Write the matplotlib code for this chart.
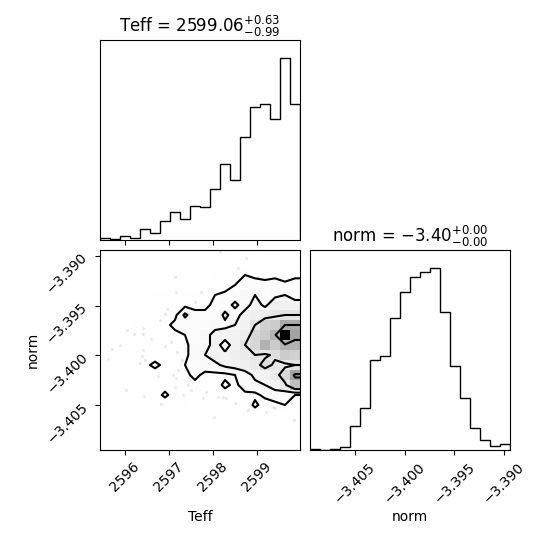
import numpy as np
import matplotlib
matplotlib.use("Agg")
import matplotlib.pyplot as plt
from matplotlib.colors import LinearSegmentedColormap

# ranges of the two parameters (also the histogram ranges)
TEFF_RANGE = (2595.43, 2599.99)
NORM_RANGE = (-3.4095, -3.3894)
N_BINS = 20

# 1D histogram counts (20 bins each)
teff_counts = [2, 1, 4, 2, 11, 7, 19, 28, 21, 34, 33, 51, 76, 60, 103, 132, 135, 120, 181, 135]
norm_counts = [1, 0, 1, 3, 24, 42, 90, 94, 132, 158, 173, 178, 182, 138, 84, 52, 22, 10, 4, 6]

# 2D counts, rows from top (high norm) to bottom, columns low -> high Teff
H_rows = [
    [0, 0, 0, 0, 0, 0, 0, 0, 0, 0, 0, 0, 1, 0, 1, 0, 0, 1, 0, 0],
    [0, 0, 0, 0, 0, 0, 0, 0, 0, 0, 0, 0, 0, 1, 0, 1, 1, 0, 1, 1],
    [0, 0, 0, 0, 0, 0, 0, 0, 0, 0, 0, 1, 1, 2, 3, 2, 2, 2, 1, 2],
    [0, 0, 0, 0, 0, 0, 0, 0, 0, 0, 1, 1, 1, 3, 4, 5, 4, 5, 4, 5],
    [0, 0, 0, 0, 0, 1, 1, 1, 1, 1, 2, 3, 4, 5, 6, 7, 5, 6, 7, 5],
    [0, 0, 0, 0, 0, 1, 1, 1, 2, 2, 2, 4, 5, 8, 5, 9, 6, 10, 9, 9],
    [0, 0, 0, 0, 1, 1, 2, 2, 8, 4, 4, 4, 8, 5, 9, 10, 11, 12, 13, 13],
    [0, 0, 0, 1, 1, 2, 2, 4, 4, 4, 4, 6, 6, 7, 9, 13, 17, 18, 23, 23],
    [0, 0, 0, 1, 1, 2, 2, 2, 3, 4, 6, 8, 9, 9, 10, 16, 18, 22, 40, 24],
    [0, 0, 1, 1, 2, 2, 2, 2, 2, 5, 5, 9, 5, 9, 13, 16, 22, 18, 22, 22],
    [0, 1, 1, 1, 2, 1, 2, 2, 2, 5, 7, 9, 8, 10, 11, 13, 12, 14, 18, 17],
    [0, 0, 1, 1, 2, 4, 2, 2, 3, 4, 5, 6, 8, 9, 10, 11, 15, 12, 12, 13],
    [0, 0, 1, 1, 1, 1, 1, 2, 2, 4, 2, 2, 2, 3, 5, 8, 9, 11, 16, 24],
    [0, 0, 1, 1, 1, 1, 1, 1, 1, 2, 2, 1, 4, 2, 5, 6, 7, 9, 12, 20],
    [0, 1, 1, 1, 1, 1, 4, 1, 1, 1, 1, 1, 1, 2, 2, 2, 4, 5, 4, 3],
    [1, 0, 0, 0, 0, 1, 0, 0, 1, 0, 1, 0, 0, 1, 0, 4, 1, 2, 3, 1],
    [0, 0, 0, 0, 0, 0, 0, 0, 0, 0, 0, 0, 1, 0, 1, 0, 0, 0, 1, 1],
    [0, 0, 0, 0, 0, 0, 0, 0, 0, 0, 0, 0, 0, 0, 0, 0, 1, 0, 0, 0],
    [0, 0, 0, 0, 0, 0, 0, 0, 0, 0, 0, 0, 0, 0, 0, 0, 0, 0, 0, 0],
    [0, 0, 0, 0, 0, 0, 0, 0, 0, 0, 0, 0, 0, 0, 0, 0, 0, 0, 0, 0],
]

# loose samples visible outside the outer contour
pts_teff = [2597.13, 2597.17, 2597.59, 2596.95, 2596.91, 2596.79, 2596.04, 2596.40, 2596.21,
            2596.40, 2596.60, 2595.88, 2595.70, 2596.91, 2597.06, 2596.41, 2597.19, 2595.62,
            2596.38, 2596.45, 2596.34, 2596.57, 2597.29, 2597.21, 2596.75, 2597.10, 2597.17,
            2597.48, 2597.13, 2597.44, 2596.02, 2596.44, 2596.81, 2597.51, 2597.32, 2598.16,
            2598.76, 2598.57, 2599.03, 2597.74, 2598.04, 2599.86, 2598.80, 2599.41, 2599.79,
            2597.85, 2598.23, 2598.50, 2597.78, 2598.12, 2598.31, 2599.22, 2599.37, 2598.91]
pts_norm = [-3.3921, -3.3936, -3.3946, -3.3953, -3.3958, -3.3964, -3.3974, -3.3972, -3.3978,
            -3.3978, -3.3983, -3.3989, -3.3993, -3.3990, -3.3986, -3.3994, -3.3997, -3.4004,
            -3.4001, -3.4005, -3.4008, -3.4010, -3.4005, -3.4015, -3.4021, -3.4020, -3.4023,
            -3.4021, -3.4032, -3.4030, -3.4035, -3.4041, -3.4049, -3.4035, -3.4040, -3.3896,
            -3.3902, -3.3912, -3.3921, -3.3936, -3.4062, -3.4065, -3.4055, -3.4053, -3.4047,
            -3.4037, -3.4042, -3.4048, -3.4043, -3.4042, -3.4043, -3.4057, -3.4052, -3.4050]

teff_ticks = [2596, 2597, 2598, 2599]
norm_ticks = [-3.405, -3.400, -3.395, -3.390]

teff_title = r"Teff = $2599.06_{-0.99}^{+0.63}$"
norm_title = r"norm = $-3.40_{-0.00}^{+0.00}$"

teff_edges = np.linspace(TEFF_RANGE[0], TEFF_RANGE[1], N_BINS + 1)
norm_edges = np.linspace(NORM_RANGE[0], NORM_RANGE[1], N_BINS + 1)

# same layout numbers corner uses for 2 parameters
factor = 2.0
lbdim = 0.5 * factor
trdim = 0.2 * factor
whspace = 0.05
plotdim = factor * 2 + factor * whspace
dim = lbdim + plotdim + trdim

fig, axes = plt.subplots(2, 2, figsize=(dim, dim), dpi=100)
lb = lbdim / dim
tr = (lbdim + plotdim) / dim
fig.subplots_adjust(left=lb, bottom=lb, right=tr, top=tr, wspace=whspace, hspace=whspace)

# --- 1D histograms ---
ax = axes[0, 0]
ax.stairs(teff_counts, teff_edges, color="k", lw=1.0)
ax.set_xlim(TEFF_RANGE)
ax.set_ylim(0, 1.1 * max(teff_counts))
ax.set_xticks(teff_ticks)
ax.set_xticklabels([])
ax.set_yticks([])
ax.set_title(teff_title, fontsize=12)

ax = axes[1, 1]
ax.stairs(norm_counts, norm_edges, color="k", lw=1.0)
ax.set_xlim(NORM_RANGE)
ax.set_ylim(0, 1.1 * max(norm_counts))
ax.set_xticks(norm_ticks)
ax.set_yticks([])
ax.set_title(norm_title, fontsize=12)
for l in ax.get_xticklabels():
    l.set_rotation(45)
ax.set_xlabel("norm")
ax.xaxis.set_label_coords(0.5, -0.3)

axes[0, 1].set_frame_on(False)
axes[0, 1].set_xticks([])
axes[0, 1].set_yticks([])

# --- 2D panel ---
ax = axes[1, 0]
H = np.array(H_rows[::-1], dtype=float).T  # shape (teff, norm)

# contour levels at 0.5, 1, 1.5, 2 sigma of enclosed mass
levels = 1.0 - np.exp(-0.5 * np.arange(0.5, 2.1, 0.5) ** 2)
Hflat = H.flatten()
inds = np.argsort(Hflat)[::-1]
Hflat = Hflat[inds]
sm = np.cumsum(Hflat)
sm /= sm[-1]
V = np.empty(len(levels))
for i, v0 in enumerate(levels):
    try:
        V[i] = Hflat[sm <= v0][-1]
    except IndexError:
        V[i] = Hflat[0]
V.sort()
m = np.diff(V) == 0
while np.any(m):
    V[np.where(m)[0][0]] *= 1.0 - 1e-4
    m = np.diff(V) == 0
V.sort()

# padded grid at bin centres so contours run out past the edges
X1 = 0.5 * (teff_edges[1:] + teff_edges[:-1])
Y1 = 0.5 * (norm_edges[1:] + norm_edges[:-1])
H2 = H.min() + np.zeros((H.shape[0] + 4, H.shape[1] + 4))
H2[2:-2, 2:-2] = H
H2[2:-2, 1] = H[:, 0]
H2[2:-2, -2] = H[:, -1]
H2[1, 2:-2] = H[0]
H2[-2, 2:-2] = H[-1]
H2[1, 1] = H[0, 0]
H2[1, -2] = H[0, -1]
H2[-2, 1] = H[-1, 0]
H2[-2, -2] = H[-1, -1]
X2 = np.concatenate([X1[0] + np.array([-2, -1]) * np.diff(X1[:2]), X1,
                     X1[-1] + np.array([1, 2]) * np.diff(X1[-2:])])
Y2 = np.concatenate([Y1[0] + np.array([-2, -1]) * np.diff(Y1[:2]), Y1,
                     Y1[-1] + np.array([1, 2]) * np.diff(Y1[-2:])])

ax.plot(pts_teff, pts_norm, "o", color="k", ms=2, alpha=0.1, mec="none", zorder=-1)

white_cmap = LinearSegmentedColormap.from_list("white_cmap", [(1, 1, 1), (1, 1, 1)], N=2)
density_cmap = LinearSegmentedColormap.from_list("density_cmap", ["k", (1, 1, 1, 0)])
ax.contourf(X2, Y2, H2.T, [V.min(), H.max()], cmap=white_cmap, antialiased=False)
ax.pcolor(teff_edges, norm_edges, H.max() - H.T, cmap=density_cmap)
ax.contour(X2, Y2, H2.T, V, colors="k", linewidths=1.5)

ax.set_xlim(TEFF_RANGE)
ax.set_ylim(NORM_RANGE)
ax.set_xticks(teff_ticks)
ax.set_yticks(norm_ticks)
for l in ax.get_xticklabels():
    l.set_rotation(45)
for l in ax.get_yticklabels():
    l.set_rotation(45)
ax.set_xlabel("Teff")
ax.set_ylabel("norm")
ax.xaxis.set_label_coords(0.5, -0.3)
ax.yaxis.set_label_coords(-0.3, 0.5)

fig.savefig("out.png", dpi=100)
